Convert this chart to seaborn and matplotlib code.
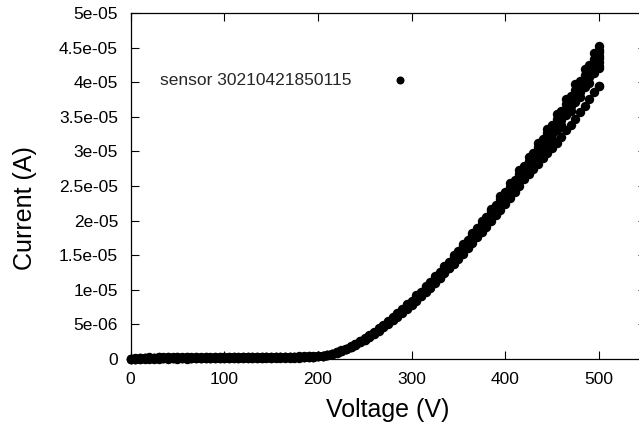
import matplotlib
matplotlib.use("Agg")
import matplotlib.pyplot as plt
import seaborn as sns
import pandas as pd

# ---- data (voltage in V, current in microampere) ----
volt_even = [0, 10, 20, 30, 40, 50, 60, 70, 80, 90, 100, 110, 120, 130, 140, 150, 160, 170, 180, 190,
             200, 210, 220, 230, 240, 250, 260, 270, 280, 290, 300, 310, 320, 330, 340, 350, 360, 370,
             380, 390, 400, 410, 420, 430, 440, 450, 460, 470, 480, 490, 500]
volt_odd = [5, 15, 25, 35, 45, 55, 65, 75, 85, 95, 105, 115, 125, 135, 145, 155, 165, 175, 185, 195,
            205, 215, 225, 235, 245, 255, 265, 275, 285, 295, 305, 315, 325, 335, 345, 355, 365, 375,
            385, 395, 405, 415, 425, 435, 445, 455, 465, 475, 485, 495, 500]

# sweeps sampled on the even voltage grid
sweep_1 = [0.0, 0.05, 0.08, 0.1, 0.1, 0.12, 0.12, 0.14, 0.15, 0.15, 0.16, 0.17, 0.18, 0.19, 0.2, 0.2, 0.22, 0.23, 0.25, 0.3,
           0.39, 0.53, 0.92, 1.40, 2.03, 2.80, 3.67, 4.63, 5.65, 6.76, 7.91, 9.17, 10.42, 11.77, 13.22, 14.67, 16.16, 17.76,
           19.30, 20.99, 22.68, 24.41, 26.25, 28.08, 29.92, 31.85, 33.78, 35.80, 37.83, 39.95, 41.98]
sweep_2 = [0.02, 0.1, 0.12, 0.15, 0.16, 0.17, 0.18, 0.18, 0.19, 0.2, 0.21, 0.22, 0.22, 0.23, 0.24, 0.25, 0.26, 0.27, 0.29, 0.33,
           0.39, 0.54, 0.94, 1.43, 2.07, 2.86, 3.74, 4.73, 5.76, 6.90, 8.08, 9.36, 10.64, 12.02, 13.49, 14.97, 16.50, 18.12,
           19.70, 21.42, 23.15, 24.92, 26.79, 28.66, 30.54, 32.51, 34.48, 36.54, 38.61, 40.78, 42.85]
sweep_3 = [0.05, 0.15, 0.2, 0.22, 0.24, 0.25, 0.25, 0.26, 0.27, 0.28, 0.28, 0.29, 0.3, 0.3, 0.31, 0.31, 0.32, 0.33, 0.34, 0.37,
           0.40, 0.55, 0.95, 1.46, 2.11, 2.91, 3.82, 4.82, 5.88, 7.04, 8.24, 9.55, 10.85, 12.26, 13.77, 15.28, 16.83, 18.49,
           20.10, 21.86, 23.62, 25.43, 27.34, 29.25, 31.16, 33.17, 35.18, 37.29, 39.40, 41.61, 43.72]
sweep_4 = [0.07, 0.18, 0.22, 0.25, 0.27, 0.28, 0.29, 0.3, 0.3, 0.31, 0.32, 0.32, 0.33, 0.33, 0.34, 0.34, 0.35, 0.36, 0.37, 0.4,
           0.41, 0.56, 0.97, 1.49, 2.15, 2.97, 3.90, 4.92, 6.00, 7.18, 8.41, 9.74, 11.07, 12.51, 14.04, 15.58, 17.17, 18.86,
           20.50, 22.29, 24.09, 25.93, 27.88, 29.83, 31.78, 33.83, 35.88, 38.03, 40.18, 42.44, 44.59]
sweep_5 = [-0.05, 0.0, 0.02, 0.04, 0.05, 0.06, 0.07, 0.08, 0.09, 0.1, 0.1, 0.11, 0.12, 0.13, 0.14, 0.15, 0.16, 0.18, 0.2, 0.26,
           0.38, 0.53, 0.91, 1.38, 2.01, 2.77, 3.63, 4.58, 5.59, 6.69, 7.83, 9.07, 10.31, 11.65, 13.08, 14.52, 16.00, 17.57,
           19.10, 20.77, 22.44, 24.16, 25.98, 27.50, 28.99, 30.53, 32.10, 33.87, 35.67, 37.59, 39.50]
# sweeps sampled on the odd voltage grid
sweep_6 = [0.03, 0.08, 0.11, 0.13, 0.14, 0.15, 0.16, 0.17, 0.17, 0.18, 0.19, 0.2, 0.2, 0.21, 0.22, 0.23, 0.24, 0.26, 0.28, 0.33,
           0.44, 0.73, 1.17, 1.71, 2.44, 3.22, 4.19, 5.17, 6.24, 7.41, 8.63, 9.90, 11.21, 12.63, 14.09, 15.55, 17.11, 18.72,
           20.38, 22.04, 23.79, 25.59, 27.40, 29.30, 31.20, 33.15, 35.20, 37.20, 39.29, 41.39, 42.41]
sweep_7 = [0.04, 0.1, 0.13, 0.15, 0.16, 0.17, 0.18, 0.19, 0.19, 0.2, 0.21, 0.21, 0.22, 0.23, 0.24, 0.25, 0.26, 0.27, 0.3, 0.34,
           0.45, 0.75, 1.2, 1.75, 2.5, 3.3, 4.3, 5.3, 6.4, 7.6, 8.85, 10.15, 11.5, 12.95, 14.45, 15.95, 17.55, 19.2,
           20.9, 22.6, 24.4, 26.25, 28.1, 30.05, 32.0, 34.0, 36.1, 38.15, 40.3, 42.45, 43.5]
sweep_8 = [0.06, 0.12, 0.15, 0.17, 0.18, 0.19, 0.2, 0.2, 0.21, 0.22, 0.23, 0.23, 0.24, 0.25, 0.26, 0.27, 0.28, 0.29, 0.31, 0.36,
           0.46, 0.77, 1.22, 1.79, 2.55, 3.37, 4.39, 5.41, 6.53, 7.75, 9.03, 10.35, 11.73, 13.21, 14.74, 16.27, 17.90, 19.58,
           21.32, 23.05, 24.89, 26.78, 28.66, 30.65, 32.64, 34.68, 36.82, 38.91, 41.11, 43.30, 44.37]
sweep_9 = [0.08, 0.16, 0.2, 0.23, 0.25, 0.26, 0.27, 0.28, 0.29, 0.3, 0.3, 0.31, 0.32, 0.32, 0.33, 0.34, 0.35, 0.36, 0.38, 0.42,
           0.47, 0.78, 1.25, 1.82, 2.60, 3.43, 4.47, 5.51, 6.66, 7.90, 9.20, 10.56, 11.96, 13.47, 15.03, 16.59, 18.25, 19.97,
           21.74, 23.50, 25.38, 27.30, 29.22, 31.25, 33.28, 35.36, 37.54, 39.68, 41.91, 44.15, 45.24]
sweep_10 = [0.0, 0.04, 0.06, 0.08, 0.09, 0.1, 0.11, 0.12, 0.13, 0.14, 0.15, 0.15, 0.16, 0.17, 0.18, 0.19, 0.2, 0.21, 0.24, 0.3,
            0.43, 0.72, 1.15, 1.67, 2.39, 3.15, 4.11, 5.06, 6.11, 7.26, 8.45, 9.69, 10.98, 12.37, 13.80, 15.23, 16.76, 18.34,
            19.96, 21.58, 23.30, 25.07, 26.70, 28.25, 29.76, 31.28, 33.03, 34.75, 36.63, 38.54, 39.50]

x_ticks = [0, 100, 200, 300, 400, 500]
x_tick_labels = ["0", "100", "200", "300", "400", "500"]
y_ticks = [0, 5e-06, 1e-05, 1.5e-05, 2e-05, 2.5e-05, 3e-05, 3.5e-05, 4e-05, 4.5e-05, 5e-05]
y_tick_labels = ["0", "5e-06", "1e-05", "1.5e-05", "2e-05", "2.5e-05", "3e-05", "3.5e-05", "4e-05", "4.5e-05", "5e-05"]
legend_label = "sensor 30210421850115"

# ---- build table ----
scans = [(volt_even, sweep_1), (volt_even, sweep_2), (volt_even, sweep_3), (volt_even, sweep_4),
         (volt_even, sweep_5), (volt_odd, sweep_6), (volt_odd, sweep_7), (volt_odd, sweep_8),
         (volt_odd, sweep_9), (volt_odd, sweep_10)]
frames = []
for k, (v, i) in enumerate(scans):
    frames.append(pd.DataFrame({"Voltage": v, "Current": [c * 1e-6 for c in i], "scan": k}))
df = pd.concat(frames, ignore_index=True)

sns.set_theme(style="ticks")
plt.rcParams["font.family"] = ["Liberation Sans", "DejaVu Sans"]

W, H = 639, 423
fig = plt.figure(figsize=(W / 100, H / 100), dpi=100)
left, right, top, bottom = 130.6, 645.6, 13, 359
ax = fig.add_axes([left / W, (H - bottom) / H, (right - left) / W, (bottom - top) / H])

sns.scatterplot(data=df, x="Voltage", y="Current", color="black", s=46, linewidth=0,
                ax=ax, label=legend_label, clip_on=False, zorder=3)

ax.set_xlim(0, 550)
ax.set_ylim(0, 5e-05)
ax.set_xticks(x_ticks)
ax.set_xticklabels(x_tick_labels)
ax.set_yticks(y_ticks)
ax.set_yticklabels(y_tick_labels)
ax.tick_params(direction="in", length=6, width=0.8, color="black", top=True, right=True,
               labelsize=12.5, labelcolor="black")
ax.tick_params(axis="x", pad=9)
ax.tick_params(axis="y", pad=9)
for sp in ax.spines.values():
    sp.set_linewidth(0.9)
    sp.set_color("black")

ax.set_xlabel("Voltage (V)", fontsize=18, color="black")
ax.set_ylabel("Current (A)", fontsize=18, color="black")
ax.xaxis.set_label_coords(0.5, -0.113)
ax.yaxis.set_label_coords(-0.182, 0.436)

ax.legend(loc="center left", bbox_to_anchor=(0.057, 0.806), markerfirst=False, frameon=False,
          borderpad=0, borderaxespad=0, handletextpad=0.8, handlelength=4.0, fontsize=12.5,
          markerscale=0.85)

fig.savefig("out.png", dpi=100)
